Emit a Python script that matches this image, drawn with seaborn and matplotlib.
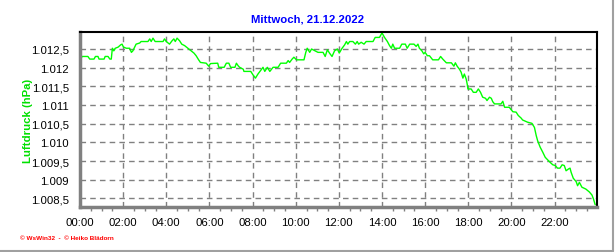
import matplotlib
matplotlib.use("Agg")
import matplotlib.pyplot as plt
import matplotlib.ticker as mticker
from matplotlib.lines import Line2D
import seaborn as sns
import pandas as pd

# ---- data (minutes after midnight, pressure in hPa) ----
minutes = [0, 6, 22, 27, 39, 43, 50, 53, 67, 70, 78, 83, 87, 90, 94, 98, 106, 113, 117, 121,
           129, 138, 143, 147, 152, 156, 166, 170, 189, 194, 198, 203, 209, 231, 235, 240, 249, 256, 261, 265,
           270, 277, 283, 291, 300, 309, 317, 323, 330, 335, 351, 358, 363, 383, 386, 401, 407, 414, 419, 431,
           435, 440, 444, 454, 456, 475, 481, 488, 495, 505, 509, 514, 521, 528, 537, 551, 558, 574, 579, 583,
           590, 595, 602, 623, 628, 632, 639, 644, 662, 676, 682, 688, 694, 701, 708, 716, 721, 729, 736, 741,
           745, 750, 759, 766, 771, 775, 782, 790, 796, 815, 821, 833, 840, 847, 855, 861, 866, 870, 875, 889,
           895, 905, 910, 917, 929, 935, 940, 944, 951, 956, 960, 966, 972, 981, 997, 1003, 1009, 1019, 1033, 1040,
           1044, 1049, 1056, 1060, 1065, 1069, 1074, 1077, 1079, 1088, 1094, 1102, 1108, 1114, 1120, 1128, 1132, 1139, 1144, 1148,
           1153, 1171, 1176, 1181, 1194, 1204, 1213, 1219, 1227, 1231, 1245, 1257, 1264, 1269, 1273, 1280, 1287, 1294, 1306, 1315,
           1322, 1328, 1335, 1341, 1347, 1352, 1359, 1363, 1366, 1372, 1380, 1384, 1389, 1396, 1407, 1417, 1424, 1428, 1433]
pressure = [1012.21, 1012.30, 1012.30, 1012.23, 1012.23, 1012.30, 1012.30, 1012.23, 1012.23, 1012.30,
            1012.30, 1012.23, 1012.23, 1012.52, 1012.45, 1012.52, 1012.55, 1012.61, 1012.63, 1012.55,
            1012.52, 1012.52, 1012.41, 1012.45, 1012.55, 1012.63, 1012.66, 1012.70, 1012.70, 1012.77,
            1012.70, 1012.79, 1012.70, 1012.70, 1012.77, 1012.70, 1012.63, 1012.72, 1012.77, 1012.70,
            1012.79, 1012.72, 1012.63, 1012.59, 1012.52, 1012.45, 1012.39, 1012.32, 1012.21, 1012.14,
            1012.12, 1012.04, 1012.11, 1012.12, 1012.01, 1012.01, 1012.12, 1012.12, 1012.01, 1012.01,
            1012.12, 1012.05, 1012.01, 1011.96, 1011.90, 1011.90, 1011.81, 1011.72, 1011.83, 1011.96,
            1012.01, 1011.90, 1012.01, 1011.90, 1012.01, 1012.01, 1012.12, 1012.12, 1012.19, 1012.14,
            1012.23, 1012.28, 1012.21, 1012.21, 1012.41, 1012.52, 1012.41, 1012.50, 1012.41, 1012.41,
            1012.30, 1012.48, 1012.39, 1012.30, 1012.45, 1012.50, 1012.39, 1012.52, 1012.61, 1012.70,
            1012.63, 1012.70, 1012.70, 1012.63, 1012.70, 1012.63, 1012.68, 1012.63, 1012.70, 1012.70,
            1012.81, 1012.81, 1012.93, 1012.81, 1012.70, 1012.59, 1012.52, 1012.63, 1012.52, 1012.52,
            1012.63, 1012.63, 1012.52, 1012.63, 1012.63, 1012.57, 1012.63, 1012.52, 1012.45, 1012.37,
            1012.41, 1012.32, 1012.32, 1012.21, 1012.21, 1012.30, 1012.23, 1012.13, 1012.13, 1012.04,
            1012.13, 1012.04, 1011.95, 1011.88, 1011.72, 1011.83, 1011.70, 1011.56, 1011.43, 1011.43,
            1011.34, 1011.34, 1011.43, 1011.34, 1011.21, 1011.18, 1011.12, 1011.21, 1011.18, 1011.09,
            1011.03, 1011.03, 1011.10, 1010.94, 1010.94, 1010.82, 1010.81, 1010.72, 1010.65, 1010.60,
            1010.54, 1010.51, 1010.40, 1010.18, 1010.04, 1009.87, 1009.74, 1009.60, 1009.48, 1009.40,
            1009.38, 1009.31, 1009.31, 1009.40, 1009.38, 1009.24, 1009.29, 1009.31, 1009.20, 1009.04,
            1008.95, 1008.84, 1008.93, 1008.80, 1008.75, 1008.67, 1008.59, 1008.49, 1008.33]

x_tick_minutes = [0, 120, 240, 360, 480, 600, 720, 840, 960, 1080, 1200, 1320]
x_tick_labels = ["00:00", "02:00", "04:00", "06:00", "08:00", "10:00",
                 "12:00", "14:00", "16:00", "18:00", "20:00", "22:00"]
y_ticks = [1008.5, 1009.0, 1009.5, 1010.0, 1010.5, 1011.0, 1011.5, 1012.0, 1012.5]

title = "Mittwoch, 21.12.2022"
y_label = "Luftdruck (hPa)"
footer = "\u00a9 WsWin32  -  \u00a9 Heiko Blädorn"

df = pd.DataFrame({"Zeit": minutes, "Luftdruck": pressure})

sns.set_theme(style="white")
plt.rcParams["font.family"] = ["Liberation Sans", "DejaVu Sans"]

fig = plt.figure(figsize=(6.16, 2.53), dpi=100)
fig.patch.set_facecolor("white")
ax = fig.add_axes([80 / 616, 1 - 208 / 253, (597 - 80) / 616, (208 - 33) / 253])

sns.lineplot(data=df, x="Zeit", y="Luftdruck", ax=ax, color="#00ff00",
             linewidth=1.0, legend=False)

ax.set_xlim(0, 1438)
ax.set_ylim(1008.27, 1012.955)

ax.set_xticks(x_tick_minutes)
ax.set_xticklabels(x_tick_labels)
ax.xaxis.set_minor_locator(mticker.MultipleLocator(30))
ax.set_yticks(y_ticks)


def de_fmt(v, pos=None):
    s = f"{v:,.1f}".replace(",", "X").replace(".", ",").replace("X", ".")
    if s.endswith(",0"):
        s = s[:-2]
    return s


ax.yaxis.set_major_formatter(mticker.FuncFormatter(de_fmt))

ax.tick_params(axis="both", which="major", direction="out", length=4, width=1,
               color="#808080", labelsize=8.2, labelcolor="black", pad=4)
ax.tick_params(axis="x", which="minor", direction="out", length=3, width=1,
               color="#808080", bottom=True)
ax.tick_params(axis="x", which="major", pad=3)

ax.grid(True, which="major", color="#808080", linestyle=(0, (4, 3)), linewidth=1)
ax.set_axisbelow(True)

for side in ("left", "bottom"):
    ax.spines[side].set_color("#808080")
    ax.spines[side].set_linewidth(2.5)
for side in ("top", "right"):
    ax.spines[side].set_color("black")
    ax.spines[side].set_linewidth(1.5)
    ax.spines[side].set_visible(True)

ax.set_xlabel("")
ax.set_ylabel(y_label, color="#00e000", fontweight="bold", fontsize=8.2)
ax.yaxis.set_label_coords(-0.09, 0.5)

fig.text(308 / 616, 1 - 19 / 253, title, ha="center", va="center",
         color="#0000ff", fontweight="bold", fontsize=8.2)
fig.text(20 / 616, 1 - 239 / 253, footer, ha="left", va="center",
         color="#ff0000", fontweight="bold", fontsize=4.6)

# window-like frame shadow on right and bottom
fig.add_artist(Line2D([612.5 / 616, 612.5 / 616], [1 - 0 / 253, 1 - 252 / 253],
                      transform=fig.transFigure, color="#a0a0a0", linewidth=1.5))
fig.add_artist(Line2D([0, 612.5 / 616], [1 - 252 / 253, 1 - 252 / 253],
                      transform=fig.transFigure, color="#a0a0a0", linewidth=1.5))

fig.savefig("out.png", dpi=100, facecolor="white")
